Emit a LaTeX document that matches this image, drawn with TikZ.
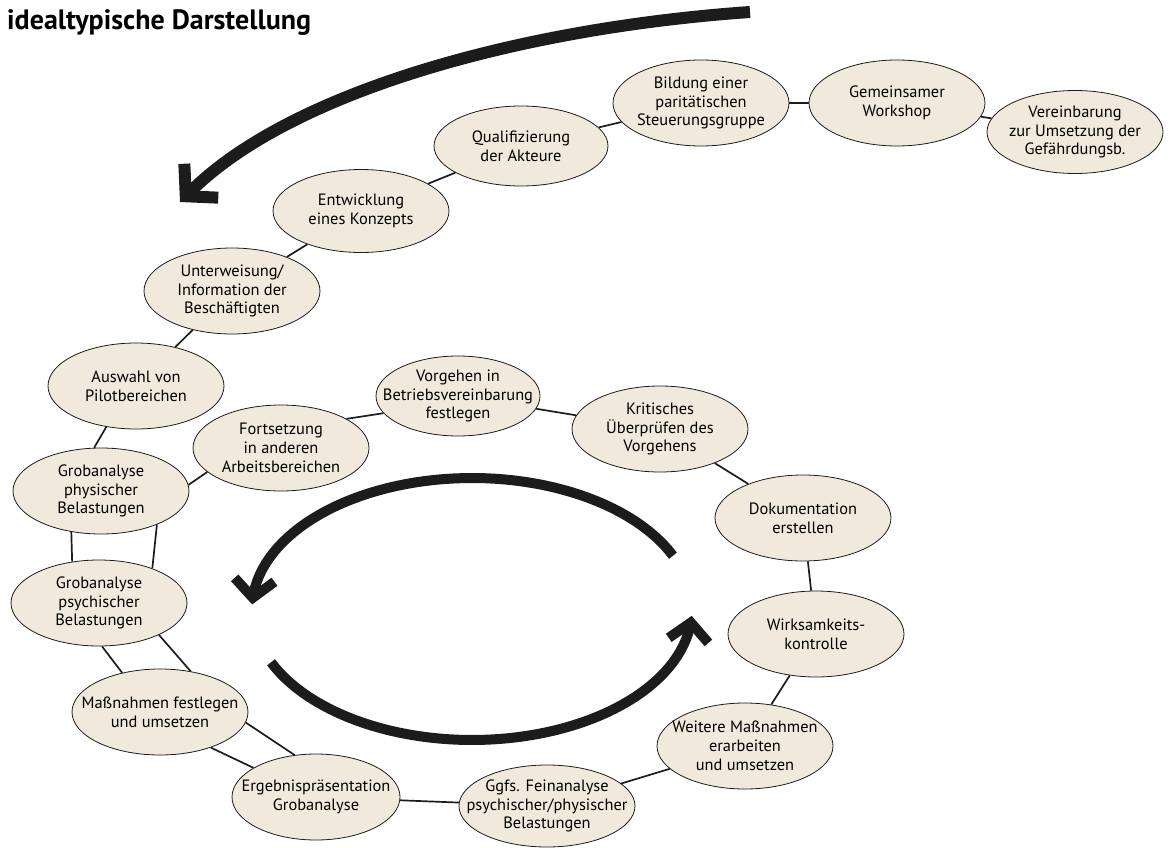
\documentclass[tikz,border=0pt]{standalone}
\usepackage{fontspec}
\setmainfont{PT Sans}
\usetikzlibrary{shapes.geometric,arrows.meta}
\definecolor{stagefill}{RGB}{241,233,219}
\definecolor{inkblack}{RGB}{28,28,28}
\begin{document}
\begin{tikzpicture}[x=1pt, y=-1pt,
        stage/.style={draw=inkblack, fill=stagefill, ellipse, line width=0.8pt, minimum width=176pt, minimum height=86pt, inner xsep=-20pt, inner ysep=0pt, align=center, font=\fontsize{16.4}{18.8}\selectfont},
        link/.style={line width=1.7pt, inkblack},
        bigarrow/.style={line width=10pt, inkblack, -{Straight Barb[sharp, length=18pt, width=40pt]}}]
        \useasboundingbox (0,0) rectangle (1172,848);
        \node[anchor=base west, inner sep=0pt, font=\fontsize{28}{31}\selectfont\bfseries] (title) at (7,30) {idealtypische Darstellung};
        % outer spiral
        \node[stage, minimum height=83pt] (verein) at (1075,132) {Vereinbarung\\zur Umsetzung der\\Gefährdungsb.};
        \node[stage] (workshop) at (897,103) {Gemeinsamer\\Workshop};
        \node[stage] (bildung) at (701,103) {Bildung einer\\paritätischen\\Steuerungsgruppe};
        \node[stage, minimum width=174pt, minimum height=80pt] (quali) at (521,146) {Qualifizierung\\der Akteure};
        \node[stage, minimum height=83pt] (konzept) at (361,211) {Entwicklung\\eines Konzepts};
        \node[stage] (unterw) at (232,291) {Unterweisung/\\Information der\\Beschäftigten};
        \node[stage] (pilot) at (136,386) {Auswahl von\\Pilotbereichen};
        \node[stage] (physisch) at (101,491) {Grobanalyse\\physischer\\Belastungen};
        \node[stage] (psychisch) at (99,603) {Grobanalyse\\psychischer\\Belastungen};
        \node[stage] (massn) at (160,712) {Maßnahmen festlegen\\und umsetzen};
        \node[stage, minimum width=168pt] (ergebnis) at (316,797) {Ergebnispräsentation\\Grobanalyse};
        % inner loop
        \node[stage, minimum height=82pt] (fein) at (547,806) {Ggfs. Feinanalyse\\psychischer/physischer\\Belastungen};
        \node[stage] (weitere) at (745,746) {Weitere Maßnahmen\\erarbeiten\\und umsetzen};
        \node[stage] (wirk) at (816,634) {Wirksamkeits-\\kontrolle};
        \node[stage] (doku) at (803,518) {Dokumentation\\erstellen};
        \node[stage] (kritik) at (660,429) {Kritisches\\Überprüfen des\\Vorgehens};
        \node[stage, minimum width=164pt, minimum height=80pt] (vorgehen) at (458,396) {Vorgehen in\\Betriebsvereinbarung\\festlegen};
        \node[stage] (fortsetz) at (281,448) {Fortsetzung\\in anderen\\Arbeitsbereichen};
        \foreach \i/\j in {verein/workshop, workshop/bildung, bildung/quali, quali/konzept, konzept/unterw, unterw/pilot, ergebnis/fein, fein/weitere, weitere/wirk, wirk/doku, doku/kritik, kritik/vorgehen}
        \draw[link] (\i) -- (\j);
        \draw[link] (pilot.-126) -- (physisch.99);
        \draw[link] (vorgehen.-167) -- (fortsetz.24);
        \draw[link] (fortsetz.-162) -- (physisch.4);
        % the two tracks down the left side
        \draw[link] (physisch.-126) -- (psychisch.123);
        \draw[link] (physisch.-31) -- (psychisch.33);
        \draw[link] (psychisch.-86) -- (massn.134);
        \draw[link] (psychisch.-28) -- (massn.53);
        \draw[link] (massn.-35) -- (ergebnis.155);
        \draw[link] (massn.-7) -- (ergebnis.117);
        % big arrows
        \coordinate (startarrow) at (750,12);
        \coordinate (endarrow) at (180,202);
        \draw[bigarrow, line width=12pt, -{Straight Barb[sharp, length=22pt, width=48pt]}] (startarrow) .. controls (520,28) and (290,92) .. (endarrow);
        \draw[bigarrow] plot[domain=-24:-178, samples=60] ({472+220*cos(\x)}, {609+131*sin(\x)});
        \draw[bigarrow] plot[domain=156:3, samples=60] ({472+220*cos(\x)}, {609+131*sin(\x)});
    \end{tikzpicture}
\end{document}
